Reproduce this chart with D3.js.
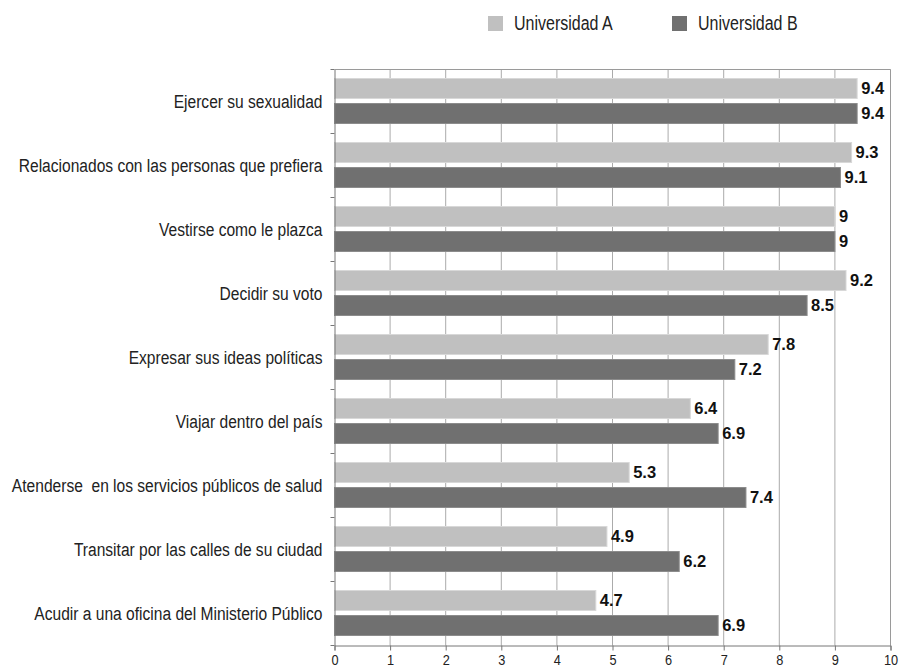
<!DOCTYPE html>
<html><head><meta charset="utf-8">
<script src="https://cdn.jsdelivr.net/npm/d3@7"></script>
<style>body{margin:0;background:#fff}svg{display:block}text{white-space:pre}</style>
</head><body>
<svg id="c" width="899" height="669"></svg>
<script>
const categories = [
  "Ejercer su sexualidad",
  "Relacionados con las personas que prefiera",
  "Vestirse como le plazca",
  "Decidir su voto",
  "Expresar sus ideas políticas",
  "Viajar dentro del país",
  "Atenderse  en los servicios públicos de salud",
  "Transitar por las calles de su ciudad",
  "Acudir a una oficina del Ministerio Público"
];
const seriesNames = ["Universidad A", "Universidad B"];
const valuesA = [9.4, 9.3, 9, 9.2, 7.8, 6.4, 5.3, 4.9, 4.7];
const valuesB = [9.4, 9.1, 9, 8.5, 7.2, 6.9, 7.4, 6.2, 6.9];
const xTicks = [0,1,2,3,4,5,6,7,8,9,10];
const colors = ["#c0c0c0", "#707070"];

const FONT = "Liberation Sans, Arial, Helvetica, sans-serif";
const svg = d3.select("#c");
const pLeft = 334.5, pRight = 890.5, pTop = 69.5, pBottom = 645.5;
const x = d3.scaleLinear().domain([0,10]).range([pLeft, pRight]);
const y = d3.scaleBand().domain(categories).range([pTop, pBottom]);
const inner = d3.scaleBand().domain(seriesNames).range([9, 54]).paddingInner(0.2);

// grid
svg.append("g").selectAll("line").data(xTicks.slice(1)).join("line")
  .attr("x1", d => x(d)).attr("x2", d => x(d))
  .attr("y1", pTop).attr("y2", pBottom)
  .attr("stroke", "#ababab").attr("stroke-width", 1);
// frame
svg.append("line").attr("x1", pLeft).attr("x2", pRight).attr("y1", pTop).attr("y2", pTop)
  .attr("stroke", "#9a9a9a");
svg.append("line").attr("x1", pRight).attr("x2", pRight).attr("y1", pTop).attr("y2", pBottom)
  .attr("stroke", "#9a9a9a");

const series = [valuesA, valuesB];
series.forEach((vals, si) => {
  const g = svg.append("g");
  g.selectAll("rect").data(categories).join("rect")
    .attr("x", x(0))
    .attr("y", (c) => y(c) + inner(seriesNames[si]))
    .attr("width", (c, i) => x(vals[i]) - x(0))
    .attr("height", inner.bandwidth())
    .attr("fill", colors[si])
    .attr("stroke", si === 0 ? "#d8d8d8" : "#8c8c8c").attr("stroke-width", 1);
  g.selectAll("text").data(categories).join("text")
    .attr("x", (c, i) => x(vals[i]) + 4)
    .attr("y", (c) => y(c) + inner(seriesNames[si]) + inner.bandwidth()/2)
    .attr("dy", "0.36em")
    .attr("font-family", FONT)
    .attr("font-weight", "bold").attr("font-size", 16.5).attr("fill", "#111")
    .text((c, i) => String(vals[i]));
});

// left axis
const sxL = 0.82;
const yAxis = d3.axisLeft(y).tickSize(0).tickPadding(0);
const ya = svg.append("g").attr("transform", `translate(${pLeft},0)`).call(yAxis);
ya.select(".domain").attr("stroke", "#777");
ya.selectAll("text").attr("font-family", FONT)
  .attr("font-size", 19).attr("fill", "#222")
  .attr("x", -12 / sxL).attr("dy", "0.35em")
  .attr("transform", `scale(${sxL},1)`);
// category boundary ticks
const bounds = categories.map(c => y(c)).concat([pBottom]);
svg.append("g").selectAll("line").data(bounds).join("line")
  .attr("x1", pLeft - 4).attr("x2", pLeft).attr("y1", d => d).attr("y2", d => d)
  .attr("stroke", "#777");

// bottom axis
const xAxis = d3.axisBottom(x).tickValues(xTicks).tickSize(5).tickPadding(4).tickFormat(d3.format("d"));
const xa = svg.append("g").attr("transform", `translate(0,${pBottom})`).call(xAxis);
xa.select(".domain").attr("stroke", "#777");
xa.selectAll(".tick line").attr("stroke", "#777");
xa.selectAll("text").attr("font-family", FONT)
  .attr("font-size", 15).attr("fill", "#222")
  .attr("transform", "scale(0.85,1)");

// legend
const legX = [488, 672];
const leg = svg.append("g");
seriesNames.forEach((n, i) => {
  leg.append("rect").attr("x", legX[i]).attr("y", 16).attr("width", 15).attr("height", 15).attr("fill", colors[i]);
  leg.append("text")
    .attr("transform", `translate(${legX[i] + 26},22.5) scale(0.8,1)`)
    .attr("dy", "0.36em")
    .attr("font-family", FONT)
    .attr("font-size", 20).attr("fill", "#222").text(n);
});
</script>
</body></html>
